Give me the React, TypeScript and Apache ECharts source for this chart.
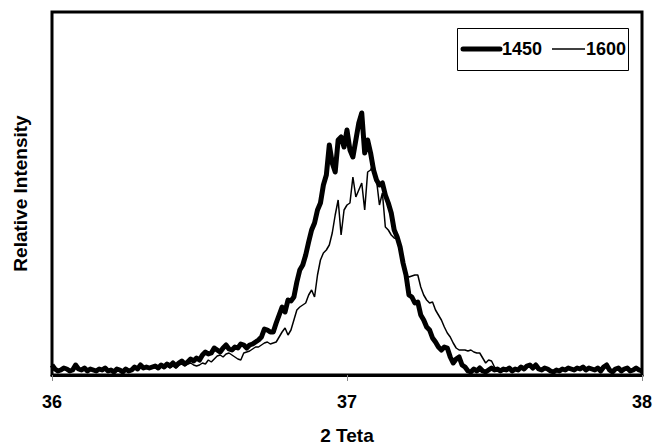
import React, { useEffect, useRef } from "react";
import * as echarts from "echarts";

const thetaStart = 36;
const thetaStep = 0.01;
const xTicks = [36, 37, 38];
const seriesNames = ["1450", "1600"];

const intensity1450 = [
  10, 6, 4, 5, 7, 6, 4, 5, 10, 6,
  5, 7, 4, 6, 5, 4, 6, 5, 7, 4,
  5, 3, 6, 5, 3, 6, 4, 5, 8, 6,
  10, 7, 8, 7, 8, 9, 7, 10, 8, 11,
  9, 12, 9, 12, 14, 11, 13, 16, 14, 17,
  15, 20, 23, 21, 22, 27, 25, 23, 27, 30,
  26, 25, 28, 27, 31, 30, 27, 30, 31, 33,
  35, 38, 46, 45, 43, 43, 52, 60, 68, 63,
  75, 74, 78, 93, 105, 110, 120, 133, 145, 152,
  165, 172, 190, 200, 230, 212, 203, 235, 238, 228,
  245, 225, 218, 235, 252, 262, 222, 235, 222, 205,
  195, 190, 192, 180, 172, 162, 145, 138, 128, 112,
  100, 80, 78, 72, 73, 60, 55, 48, 45, 37,
  33, 28, 25, 28, 27, 18, 12, 16, 18, 10,
  8, 4, 3, 6, 4, 7, 4, 3, 5, 7,
  5, 6, 4, 6, 5, 7, 4, 6, 5, 8,
  6, 9, 10, 7, 10, 6, 5, 7, 6, 4,
  3, 5, 4, 6, 5, 7, 6, 5, 7, 6,
  8, 5, 7, 6, 5, 7, 4, 8, 10, 5,
  3, 6, 7, 4, 6, 7, 4, 5, 7, 5,
  4,
];

const intensity1600 = [
  8, 5, 3, 4, 6, 5, 3, 4, 8, 5,
  4, 6, 3, 5, 4, 3, 5, 4, 6, 3,
  4, 2, 5, 4, 2, 5, 3, 4, 7, 5,
  8, 6, 7, 6, 7, 7, 6, 8, 7, 9,
  7, 9, 7, 10, 11, 9, 11, 12, 10, 9,
  10, 12, 11, 15, 13, 16, 19, 20, 18, 21,
  22, 20, 18, 16, 15, 22, 23, 24, 26, 28,
  28, 30, 32, 33, 31, 32, 33, 38, 43, 47,
  40, 45, 55, 65, 68, 70, 72, 80, 85, 78,
  100, 115, 122, 125, 130, 142, 160, 175, 140, 165,
  170, 172, 198, 178, 185, 192, 165, 203, 205, 212,
  195, 170, 182, 148, 145, 140, 137, 136, 130, 110,
  100, 98, 99, 100, 100, 88, 80, 75, 72, 73,
  65, 60, 55, 48, 42, 38, 32, 27, 25, 25,
  25, 24, 25, 23, 22, 22, 17, 12, 15, 14,
  8, 6, 5, 5, 4, 6, 5, 5, 4, 7,
  5, 8, 9, 6, 8, 5, 4, 6, 5, 3,
  4, 4, 3, 5, 4, 6, 5, 4, 6, 5,
  7, 4, 6, 5, 4, 6, 3, 7, 8, 4,
  3, 5, 6, 3, 5, 6, 3, 4, 6, 4,
  3,
];

const toPairs = (vals: number[]) =>
  vals.map((v, i) => [+(thetaStart + i * thetaStep).toFixed(2), v]);

export default function App() {
  const ref = useRef<HTMLDivElement>(null);
  useEffect(() => {
    if (!ref.current) return;
    const chart = echarts.init(ref.current, undefined, { renderer: "svg" });
    const font = "'Liberation Sans', Arial, sans-serif";
    chart.setOption({
      animation: false,
      backgroundColor: "#fff",
      grid: {
        left: 52,
        right: 11,
        top: 12,
        bottom: 70,
        show: true,
        borderColor: "#000",
        borderWidth: 3,
        containLabel: false,
        outerBoundsMode: "none",
      },
      xAxis: {
        type: "value",
        min: 36,
        max: 38,
        interval: 1,
        name: "2 Teta",
        nameLocation: "middle",
        nameGap: 51,
        nameTextStyle: {
          fontFamily: font,
          fontWeight: "bold",
          fontSize: 19,
          lineHeight: 18,
          color: "#000",
        },
        axisLine: { show: true, lineStyle: { color: "#000", width: 3 } },
        axisTick: { show: true, inside: false, length: 6, lineStyle: { color: "#888", width: 1 } },
        axisLabel: {
          fontFamily: font,
          fontWeight: "bold",
          fontSize: 18,
          color: "#000",
          margin: 18,
          customValues: xTicks,
        },
        splitLine: { show: false },
      },
      yAxis: {
        type: "value",
        min: 0,
        max: 363,
        name: "Relative Intensity",
        nameLocation: "middle",
        nameGap: 22,
        nameRotate: 90,
        nameTextStyle: { fontFamily: font, fontWeight: "bold", fontSize: 19, color: "#000" },
        axisLine: { show: false },
        axisTick: { show: false },
        axisLabel: { show: false },
        splitLine: { show: false },
      },
      series: [
        {
          name: seriesNames[0],
          type: "line",
          data: toPairs(intensity1450),
          showSymbol: false,
          lineStyle: { color: "#000", width: 5, join: "round" },
          z: 2,
        },
        {
          name: seriesNames[1],
          type: "line",
          data: toPairs(intensity1600),
          showSymbol: false,
          lineStyle: { color: "#000", width: 1.5 },
          z: 3,
        },
      ],
      graphic: [
        {
          type: "rect",
          shape: { x: 457.5, y: 28.5, width: 171, height: 42 },
          style: { fill: "#fff", stroke: "#000", lineWidth: 1 },
          z: 10,
        },
        {
          type: "line",
          shape: { x1: 463, y1: 49, x2: 500, y2: 49 },
          style: { stroke: "#000", lineWidth: 5, lineCap: "round" },
          z: 11,
        },
        {
          type: "text",
          x: 502,
          y: 49,
          style: {
            text: seriesNames[0],
            fontFamily: font,
            fontWeight: "bold",
            fontSize: 18,
            fill: "#000",
            verticalAlign: "middle",
          },
          z: 11,
        },
        {
          type: "line",
          shape: { x1: 552, y1: 49, x2: 585, y2: 49 },
          style: { stroke: "#000", lineWidth: 1.5 },
          z: 11,
        },
        {
          type: "text",
          x: 586,
          y: 49,
          style: {
            text: seriesNames[1],
            fontFamily: font,
            fontWeight: "bold",
            fontSize: 18,
            fill: "#000",
            verticalAlign: "middle",
          },
          z: 11,
        },
      ],
    });
    return () => chart.dispose();
  }, []);
  return (
    <div
      ref={ref}
      style={{ position: "absolute", left: 0, top: 0, width: 653, height: 445, background: "#fff" }}
    />
  );
}
